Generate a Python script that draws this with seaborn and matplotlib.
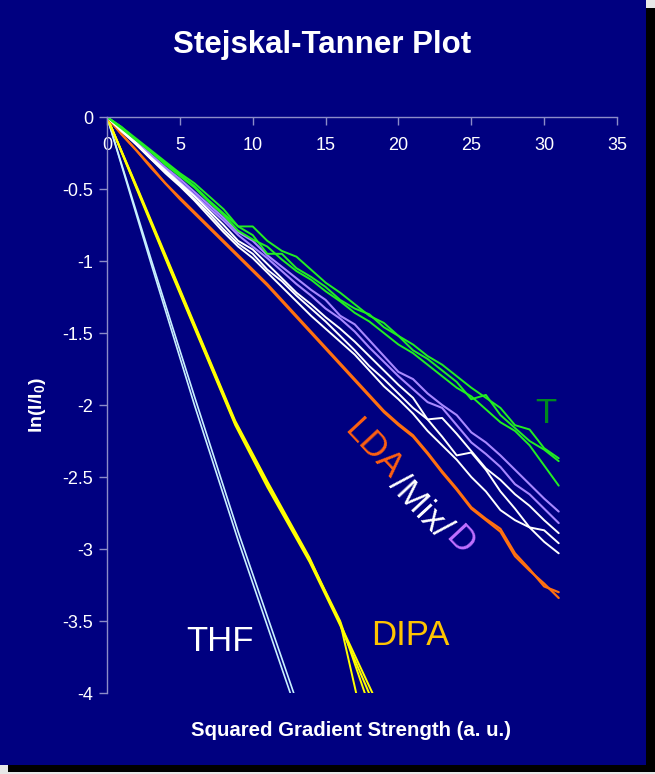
import numpy as np
import pandas as pd
import seaborn as sns
import matplotlib
matplotlib.use("Agg")
import matplotlib.pyplot as plt
from matplotlib.patches import Rectangle

# ---------------- data ----------------
x_main = list(range(32))

T_1 = [0, -0.07, -0.15, -0.23, -0.31, -0.39, -0.46, -0.55, -0.64, -0.76, -0.76, -0.86, -0.93, -0.97, -1.06, -1.15,
       -1.22, -1.30, -1.38, -1.43, -1.52, -1.58, -1.66, -1.72, -1.80, -1.88, -1.95, -2.02, -2.14, -2.17, -2.30, -2.37]
T_2 = [0, -0.08, -0.16, -0.24, -0.32, -0.40, -0.48, -0.58, -0.67, -0.76, -0.82, -0.95, -0.95, -1.05, -1.11, -1.18,
       -1.27, -1.33, -1.37, -1.46, -1.52, -1.62, -1.68, -1.76, -1.84, -1.96, -1.93, -2.07, -2.16, -2.25, -2.31, -2.39]
T_3 = [0, -0.07, -0.16, -0.24, -0.33, -0.41, -0.49, -0.59, -0.68, -0.79, -0.85, -0.90, -0.99, -1.07, -1.13, -1.21,
       -1.28, -1.36, -1.42, -1.50, -1.58, -1.64, -1.72, -1.80, -1.88, -1.94, -2.03, -2.12, -2.18, -2.28, -2.42, -2.56]

D_1 = [0, -0.08, -0.17, -0.26, -0.35, -0.43, -0.52, -0.61, -0.70, -0.80, -0.86, -0.96, -1.04, -1.12, -1.20, -1.27,
       -1.38, -1.44, -1.55, -1.66, -1.77, -1.82, -1.92, -2.00, -2.07, -2.19, -2.26, -2.35, -2.45, -2.55, -2.65, -2.74]
D_2 = [0, -0.09, -0.18, -0.27, -0.36, -0.45, -0.54, -0.63, -0.72, -0.82, -0.90, -0.98, -1.07, -1.16, -1.24, -1.33,
       -1.40, -1.49, -1.60, -1.70, -1.80, -1.89, -1.98, -2.02, -2.14, -2.26, -2.34, -2.43, -2.55, -2.62, -2.72, -2.82]

Mix_1 = [0, -0.09, -0.18, -0.28, -0.37, -0.46, -0.55, -0.65, -0.75, -0.86, -0.92, -1.02, -1.12, -1.22, -1.30, -1.39,
         -1.47, -1.56, -1.66, -1.76, -1.86, -1.95, -2.10, -2.09, -2.20, -2.32, -2.44, -2.52, -2.62, -2.70, -2.80, -2.89]
Mix_2 = [0, -0.09, -0.19, -0.29, -0.38, -0.47, -0.57, -0.67, -0.78, -0.88, -0.95, -1.06, -1.14, -1.24, -1.33, -1.42,
         -1.52, -1.62, -1.73, -1.82, -1.92, -2.02, -2.10, -2.22, -2.35, -2.33, -2.45, -2.60, -2.72, -2.85, -2.87, -2.96]
Mix_3 = [0, -0.10, -0.19, -0.29, -0.39, -0.48, -0.58, -0.69, -0.80, -0.90, -0.98, -1.08, -1.18, -1.28, -1.38, -1.47,
         -1.56, -1.65, -1.76, -1.87, -1.96, -2.06, -2.18, -2.28, -2.38, -2.50, -2.60, -2.73, -2.80, -2.85, -2.95, -3.03]

LDA_1 = [0, -0.12, -0.23, -0.34, -0.46, -0.56, -0.66, -0.76, -0.86, -0.96, -1.06, -1.16, -1.27, -1.38, -1.49, -1.60,
         -1.71, -1.82, -1.93, -2.04, -2.13, -2.21, -2.33, -2.46, -2.58, -2.71, -2.79, -2.86, -3.03, -3.14, -3.26, -3.30]
LDA_2 = [0, -0.12, -0.23, -0.35, -0.46, -0.57, -0.67, -0.77, -0.87, -0.97, -1.07, -1.17, -1.28, -1.39, -1.50, -1.61,
         -1.72, -1.83, -1.94, -2.05, -2.14, -2.22, -2.34, -2.47, -2.59, -2.72, -2.80, -2.88, -3.05, -3.15, -3.24, -3.34]

x_DIPA = [0, 2.2, 4.4, 6.6, 8.8, 11.0, 13.9, 16.0, 18.4]
DIPA_1 = [0, -0.53, -1.07, -1.60, -2.13, -2.55, -3.08, -3.51, -4.58]
DIPA_2 = [0, -0.53, -1.06, -1.59, -2.12, -2.54, -3.07, -3.50, -4.21]
DIPA_3 = [0, -0.52, -1.05, -1.58, -2.11, -2.53, -3.06, -3.52, -4.04]
DIPA_4 = [0, -0.54, -1.08, -1.61, -2.14, -2.57, -3.09, -3.53, -4.10]

x_THF = [0, 3, 6, 9, 12, 14]
THF_1 = [0, -1.01, -2.00, -2.94, -3.83, -4.42]
THF_2 = [0, -0.98, -1.94, -2.88, -3.76, -4.35]

x_ticks = [0, 5, 10, 15, 20, 25, 30, 35]
y_ticks = [0, -0.5, -1, -1.5, -2, -2.5, -3, -3.5, -4]
y_ticklabels = ["0", "-0.5", "-1", "-1.5", "-2", "-2.5", "-3", "-3.5", "-4"]

# ---------------- style ----------------
sns.set_style("dark")
plt.rcParams["font.family"] = ["Liberation Sans", "DejaVu Sans"]
plt.rcParams["mathtext.fontset"] = "custom"
plt.rcParams["mathtext.rm"] = "Liberation Sans"
plt.rcParams["mathtext.bf"] = "Liberation Sans:bold"
plt.rcParams["mathtext.it"] = "Liberation Sans:italic"

NAVY = "#000080"
AXC = "#8c8cc8"

fig = plt.figure(figsize=(6.55, 7.74), dpi=100, facecolor="#e8e8e8")
# shadow and panel
fig.patches.append(Rectangle((8 / 655, 2 / 774), 647 / 655, 764 / 774, transform=fig.transFigure,
                             facecolor="black", edgecolor="none", zorder=-2))
fig.patches.append(Rectangle((0, 9 / 774), 646 / 655, 765 / 774, transform=fig.transFigure,
                             facecolor=NAVY, edgecolor="none", zorder=-1))

ax = fig.add_axes([107 / 655, 1 - 693 / 774, 510 / 655, 576 / 774])
ax.set_zorder(1)
ax.set_facecolor(NAVY)
ax.patch.set_alpha(0)

series = [
    (x_THF, THF_1, "#c8f0ff", 1.2), (x_THF, THF_2, "#c8f0ff", 1.2),
    (x_DIPA, DIPA_1, "#ffff00", 1.4), (x_DIPA, DIPA_2, "#ffff00", 1.4),
    (x_DIPA, DIPA_3, "#ffff00", 1.4), (x_DIPA, DIPA_4, "#ffff00", 1.4),
    (x_main, LDA_1, "#ff7010", 1.6), (x_main, LDA_2, "#ff7010", 1.6),
    (x_main, D_1, "#a888ff", 1.5), (x_main, D_2, "#a888ff", 1.5),
    (x_main, Mix_1, "#ffffff", 1.4), (x_main, Mix_2, "#ffffff", 1.4), (x_main, Mix_3, "#ffffff", 1.4),
    (x_main, T_1, "#22ee22", 1.4), (x_main, T_2, "#22ee22", 1.4), (x_main, T_3, "#22ee22", 1.4),
]
for xs, ys, c, lw in series:
    sns.lineplot(x=xs, y=ys, ax=ax, color=c, linewidth=lw, estimator=None, sort=False)

ax.set_xlim(0, 35)
ax.set_ylim(-4, 0)
ax.grid(False)

for side in ["bottom", "right"]:
    ax.spines[side].set_visible(False)
for side in ["top", "left"]:
    ax.spines[side].set_visible(True)
    ax.spines[side].set_color(AXC)
    ax.spines[side].set_linewidth(1.0)

ax.xaxis.set_ticks_position("top")
ax.set_xticks(x_ticks)
ax.set_xticklabels([str(v) for v in x_ticks])
ax.tick_params(axis="x", which="both", direction="in", length=6, width=1, color=AXC,
               top=True, bottom=False, labeltop=True, labelbottom=False, pad=-27,
               labelcolor="white", labelsize=13)
ax.set_yticks(y_ticks)
ax.set_yticklabels(y_ticklabels)
ax.tick_params(axis="y", which="both", direction="out", length=6, width=1, color=AXC,
               left=True, right=False, labelcolor="white", labelsize=13, pad=4)

# titles / labels
fig.text(322 / 655, 1 - 45 / 774, "Stejskal-Tanner Plot", color="white", fontsize=22.5,
         fontweight="bold", ha="center", va="center")
fig.text(351 / 655, 1 - 731 / 774, "Squared Gradient Strength (a. u.)", color="white", fontsize=14.7,
         fontweight="bold", ha="center", va="center")
fig.text(38 / 655, 1 - 405 / 774, r"$\mathbf{ln(I/I_0)}$", color="white", fontsize=14,
         ha="center", va="center", rotation=90)

# annotations
lab_fs = 25
ax.text(30.1, -2.06, "T", color="#008a1e", fontsize=lab_fs, ha="center", va="center")
ax.text(7.75, -3.64, "THF", color="white", fontsize=lab_fs, ha="center", va="center")
ax.text(20.8, -3.6, "DIPA", color="#ffc400", fontsize=lab_fs, ha="center", va="center")
rot = -47
ax.text(18.28, -2.31, "LDA", color="#ff6010", fontsize=lab_fs, ha="center", va="center",
        rotation=rot, rotation_mode="anchor")
ax.text(21.48, -2.705, "/Mix/", color="white", fontsize=lab_fs, ha="center", va="center",
        rotation=rot, rotation_mode="anchor")
ax.text(24.23, -2.94, "D", color="#c070ff", fontsize=lab_fs, ha="center", va="center",
        rotation=rot, rotation_mode="anchor")

fig.savefig("out.png", dpi=100, facecolor=fig.get_facecolor())
